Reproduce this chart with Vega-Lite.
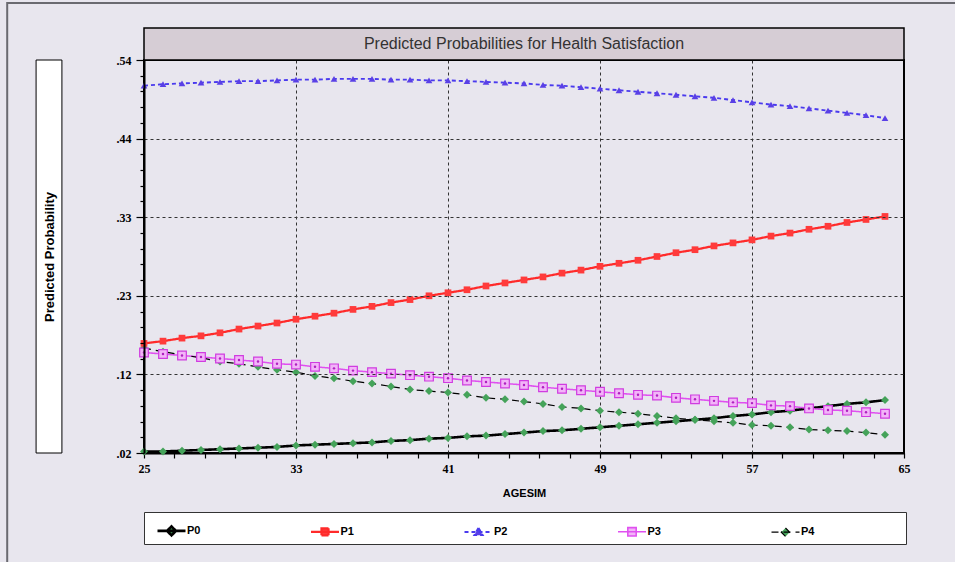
{
  "$schema": "https://vega.github.io/schema/vega-lite/v6.json",
  "width": 760,
  "height": 393,
  "autosize": {"type": "none"},
  "padding": {"left": 144, "top": 60, "right": 51, "bottom": 109},
  "background": "#e8e6ee",
  "config": {
    "view": {"stroke": "black", "strokeWidth": 2, "fill": "white"},
    "font": "Liberation Sans"
  },
  "data": {
    "values": [
      {"age": 25, "P0": 0.022, "P1": 0.165, "P2": 0.506, "P3": 0.153, "P4": 0.159},
      {"age": 26, "P0": 0.022, "P1": 0.168, "P2": 0.508, "P3": 0.151, "P4": 0.154},
      {"age": 27, "P0": 0.023, "P1": 0.172, "P2": 0.509, "P3": 0.149, "P4": 0.150},
      {"age": 28, "P0": 0.024, "P1": 0.175, "P2": 0.510, "P3": 0.147, "P4": 0.146},
      {"age": 29, "P0": 0.025, "P1": 0.179, "P2": 0.511, "P3": 0.145, "P4": 0.141},
      {"age": 30, "P0": 0.026, "P1": 0.184, "P2": 0.512, "P3": 0.143, "P4": 0.138},
      {"age": 31, "P0": 0.027, "P1": 0.188, "P2": 0.512, "P3": 0.141, "P4": 0.134},
      {"age": 32, "P0": 0.028, "P1": 0.192, "P2": 0.513, "P3": 0.138, "P4": 0.130},
      {"age": 33, "P0": 0.030, "P1": 0.197, "P2": 0.514, "P3": 0.137, "P4": 0.127},
      {"age": 34, "P0": 0.031, "P1": 0.201, "P2": 0.514, "P3": 0.134, "P4": 0.122},
      {"age": 35, "P0": 0.032, "P1": 0.205, "P2": 0.515, "P3": 0.132, "P4": 0.119},
      {"age": 36, "P0": 0.033, "P1": 0.210, "P2": 0.515, "P3": 0.129, "P4": 0.115},
      {"age": 37, "P0": 0.034, "P1": 0.214, "P2": 0.515, "P3": 0.127, "P4": 0.112},
      {"age": 38, "P0": 0.036, "P1": 0.219, "P2": 0.514, "P3": 0.125, "P4": 0.108},
      {"age": 39, "P0": 0.037, "P1": 0.223, "P2": 0.514, "P3": 0.123, "P4": 0.104},
      {"age": 40, "P0": 0.039, "P1": 0.228, "P2": 0.513, "P3": 0.121, "P4": 0.102},
      {"age": 41, "P0": 0.040, "P1": 0.232, "P2": 0.513, "P3": 0.119, "P4": 0.100},
      {"age": 42, "P0": 0.042, "P1": 0.236, "P2": 0.512, "P3": 0.116, "P4": 0.097},
      {"age": 43, "P0": 0.043, "P1": 0.241, "P2": 0.511, "P3": 0.114, "P4": 0.093},
      {"age": 44, "P0": 0.045, "P1": 0.245, "P2": 0.510, "P3": 0.112, "P4": 0.091},
      {"age": 45, "P0": 0.047, "P1": 0.249, "P2": 0.509, "P3": 0.110, "P4": 0.088},
      {"age": 46, "P0": 0.049, "P1": 0.253, "P2": 0.507, "P3": 0.107, "P4": 0.085},
      {"age": 47, "P0": 0.050, "P1": 0.258, "P2": 0.506, "P3": 0.105, "P4": 0.081},
      {"age": 48, "P0": 0.052, "P1": 0.262, "P2": 0.504, "P3": 0.103, "P4": 0.079},
      {"age": 49, "P0": 0.054, "P1": 0.267, "P2": 0.502, "P3": 0.101, "P4": 0.076},
      {"age": 50, "P0": 0.056, "P1": 0.271, "P2": 0.500, "P3": 0.099, "P4": 0.074},
      {"age": 51, "P0": 0.058, "P1": 0.275, "P2": 0.498, "P3": 0.097, "P4": 0.072},
      {"age": 52, "P0": 0.060, "P1": 0.280, "P2": 0.496, "P3": 0.096, "P4": 0.069},
      {"age": 53, "P0": 0.062, "P1": 0.285, "P2": 0.494, "P3": 0.093, "P4": 0.066},
      {"age": 54, "P0": 0.064, "P1": 0.289, "P2": 0.492, "P3": 0.091, "P4": 0.064},
      {"age": 55, "P0": 0.066, "P1": 0.294, "P2": 0.490, "P3": 0.089, "P4": 0.062},
      {"age": 56, "P0": 0.069, "P1": 0.298, "P2": 0.487, "P3": 0.087, "P4": 0.060},
      {"age": 57, "P0": 0.071, "P1": 0.302, "P2": 0.484, "P3": 0.086, "P4": 0.057},
      {"age": 58, "P0": 0.074, "P1": 0.307, "P2": 0.481, "P3": 0.083, "P4": 0.056},
      {"age": 59, "P0": 0.076, "P1": 0.311, "P2": 0.479, "P3": 0.082, "P4": 0.054},
      {"age": 60, "P0": 0.079, "P1": 0.316, "P2": 0.476, "P3": 0.079, "P4": 0.051},
      {"age": 61, "P0": 0.082, "P1": 0.320, "P2": 0.473, "P3": 0.077, "P4": 0.050},
      {"age": 62, "P0": 0.085, "P1": 0.325, "P2": 0.470, "P3": 0.076, "P4": 0.049},
      {"age": 63, "P0": 0.087, "P1": 0.329, "P2": 0.467, "P3": 0.074, "P4": 0.047},
      {"age": 64, "P0": 0.090, "P1": 0.333, "P2": 0.463, "P3": 0.072, "P4": 0.044}
    ]
  },
  "transform": [{"fold": ["P0", "P1", "P2", "P3", "P4"], "as": ["series", "prob"]}],
  "layer": [
    {
      "mark": {"type": "line", "interpolate": "linear"},
      "encoding": {
        "x": {
          "field": "age", "type": "quantitative",
          "scale": {"domain": [25, 65], "nice": false, "zero": false},
          "axis": {
            "values": [25, 26.6, 28.2, 29.8, 31.4, 33, 34.6, 36.2, 37.8, 39.4, 41, 42.6, 44.2, 45.8, 47.4, 49, 50.6, 52.2, 53.8, 55.4, 57, 58.6, 60.2, 61.8, 63.4, 65],
            "tickCount": 200,
            "title": "AGESIM",
            "titleFont": "Liberation Sans", "titleFontWeight": "bold", "titleFontSize": 11, "titleColor": "black",
            "titleY": 40, "titleBaseline": "middle",
            "labelExpr": "abs((datum.value-25)/8-round((datum.value-25)/8))<0.01 ? format(datum.value,'d') : ''",
            "labelFont": "Liberation Serif", "labelFontWeight": "bold", "labelFontSize": 12, "labelColor": "black",
            "labelPadding": 5,
            "labelOverlap": false, "labelFlush": false,
            "tickSize": 5, "tickColor": "black", "tickWidth": 1.2,
            "domainColor": "black", "domainWidth": 2,
            "grid": true, "gridColor": "#333333", "gridDash": [3, 3], "gridWidth": 1,
            "gridOpacity": {"condition": {"test": "abs((datum.value-25)/8-round((datum.value-25)/8))<0.01 && datum.value>25.5 && datum.value<64.5", "value": 1}, "value": 0}
          }
        },
        "y": {
          "field": "prob", "type": "quantitative",
          "scale": {"domain": [0.02, 0.54], "nice": false, "zero": false},
          "axis": {
            "values": [0.02, 0.0408, 0.0616, 0.0824, 0.1032, 0.124, 0.1448, 0.1656, 0.1864, 0.2072, 0.228, 0.2488, 0.2696, 0.2904, 0.3112, 0.332, 0.3528, 0.3736, 0.3944, 0.4152, 0.436, 0.4568, 0.4776, 0.4984, 0.5192, 0.54],
            "tickCount": 200,
            "zindex": 1,
            "title": "Predicted Probability",
            "titleFont": "Liberation Sans", "titleFontWeight": "bold", "titleFontSize": 13, "titleColor": "black",
            "titleX": -95, "titleY": 196.5, "titleAngle": -90, "titleAlign": "center", "titleBaseline": "middle",
            "labelExpr": "abs((datum.value-0.02)/0.104-round((datum.value-0.02)/0.104))<0.01 ? replace(format(datum.value,'.2f'),'0.','.') : ''",
            "labelFont": "Liberation Serif", "labelFontWeight": "bold", "labelFontSize": 12, "labelColor": "black",
            "labelPadding": 5,
            "labelOverlap": false, "labelFlush": false,
            "tickSize": {"condition": {"test": "abs((datum.value-0.02)/0.104-round((datum.value-0.02)/0.104))<0.01", "value": 8}, "value": 4},
            "tickColor": "black", "tickWidth": 1.2,
            "domainColor": "black", "domainWidth": 2,
            "grid": true, "gridColor": "#333333", "gridDash": [3, 3], "gridWidth": 1,
            "gridOpacity": {"condition": {"test": "abs((datum.value-0.02)/0.104-round((datum.value-0.02)/0.104))<0.01 && datum.value>0.03 && datum.value<0.53", "value": 1}, "value": 0}
          }
        },
        "stroke": {
          "field": "series", "type": "nominal",
          "scale": {"domain": ["P0", "P1", "P2", "P3", "P4"], "range": ["#000000", "#ff2a2a", "#4a3aee", "#e050f0", "#000000"]}
        },
        "strokeDash": {
          "field": "series", "type": "nominal",
          "scale": {"domain": ["P0", "P1", "P2", "P3", "P4"], "range": [[1, 0], [1, 0], [4, 3], [1, 0], [7, 5]]}
        },
        "strokeWidth": {
          "field": "series", "type": "ordinal",
          "scale": {"domain": ["P0", "P1", "P2", "P3", "P4"], "range": [2.6, 1.2, 1.2, 1.2, 1.2]}
        }
      }
    },
    {
      "data": {"values": [{}]},
      "mark": {"type": "rect", "fill": "transparent", "stroke": "#6a6a70", "strokeWidth": 2},
      "encoding": {
        "x": {"datum": 17.8, "type": "quantitative", "scale": {"domain": [25, 65], "nice": false, "zero": false}},
        "x2": {"datum": 70},
        "y": {"datum": 0.6154, "type": "quantitative", "scale": {"domain": [0.02, 0.54], "nice": false, "zero": false}},
        "y2": {"datum": -0.2}
      }
    },
    {
      "data": {"values": [{}]},
      "mark": {"type": "rect", "fill": "#d6cdd5", "stroke": "black", "strokeWidth": 1.5},
      "encoding": {
        "x": {"datum": 25, "type": "quantitative", "scale": {"domain": [25, 65], "nice": false, "zero": false}},
        "x2": {"datum": 65},
        "y": {"datum": 0.54, "type": "quantitative", "scale": {"domain": [0.02, 0.54], "nice": false, "zero": false}},
        "y2": {"datum": 0.5823}
      }
    },
    {
      "data": {"values": [{}]},
      "mark": {"type": "text", "text": "Predicted Probabilities for Health Satisfaction", "font": "Liberation Sans", "fontSize": 16, "color": "#333333", "align": "center", "baseline": "middle"},
      "encoding": {
        "x": {"datum": 45, "type": "quantitative", "scale": {"domain": [25, 65], "nice": false, "zero": false}},
        "y": {"datum": 0.5612, "type": "quantitative", "scale": {"domain": [0.02, 0.54], "nice": false, "zero": false}}
      }
    },
    {
      "data": {"values": [{}]},
      "mark": {"type": "rect", "fill": "white", "stroke": "black", "strokeWidth": 1},
      "encoding": {
        "x": {"datum": 19.32, "type": "quantitative", "scale": {"domain": [25, 65], "nice": false, "zero": false}},
        "x2": {"datum": 20.68},
        "y": {"datum": 0.54, "type": "quantitative", "scale": {"domain": [0.02, 0.54], "nice": false, "zero": false}},
        "y2": {"datum": 0.02}
      }
    },
    {
      "transform": [{"filter": "datum.series === 'P0' || datum.series === 'P4'"}],
      "mark": {"type": "point", "shape": "diamond", "filled": true, "fill": "#45a35a", "size": 64, "opacity": 1},
      "encoding": {
        "x": {"field": "age", "type": "quantitative"},
        "y": {"field": "prob", "type": "quantitative"}
      }
    },
    {
      "transform": [{"filter": "datum.series === 'P1'"}],
      "mark": {"type": "point", "shape": "square", "filled": true, "fill": "#ff3b3b", "size": 45, "opacity": 1},
      "encoding": {
        "x": {"field": "age", "type": "quantitative"},
        "y": {"field": "prob", "type": "quantitative"}
      }
    },
    {
      "transform": [{"filter": "datum.series === 'P2'"}],
      "mark": {"type": "point", "shape": "triangle-up", "filled": true, "fill": "#5a40e6", "size": 45, "opacity": 1},
      "encoding": {
        "x": {"field": "age", "type": "quantitative"},
        "y": {"field": "prob", "type": "quantitative"}
      }
    },
    {
      "transform": [{"filter": "datum.series === 'P3'"}],
      "mark": {"type": "point", "shape": "square", "filled": true, "fill": "#f2b4f8", "stroke": "#d03ce0", "strokeWidth": 1.2, "size": 75, "opacity": 1},
      "encoding": {
        "x": {"field": "age", "type": "quantitative"},
        "y": {"field": "prob", "type": "quantitative"}
      }
    },
    {
      "transform": [{"filter": "datum.series === 'P3'"}],
      "mark": {"type": "point", "shape": "circle", "filled": true, "fill": "#b020c0", "size": 6, "opacity": 1},
      "encoding": {
        "x": {"field": "age", "type": "quantitative"},
        "y": {"field": "prob", "type": "quantitative"}
      }
    },
    {
      "transform": [{"filter": "false"}],
      "mark": {"type": "point", "filled": true, "opacity": 1},
      "encoding": {
        "stroke": {
          "field": "series", "type": "nominal",
          "scale": {"domain": ["P0", "P1", "P2", "P3", "P4"], "range": ["#000000", "#ff2a2a", "#4a3aee", "#e050f0", "#000000"]}
        },
        "strokeDash": {
          "field": "series", "type": "nominal",
          "scale": {"domain": ["P0", "P1", "P2", "P3", "P4"], "range": [[1, 0], [1, 0], [4, 3], [1, 0], [7, 5]]}
        },
        "strokeWidth": {
          "field": "series", "type": "ordinal",
          "scale": {"domain": ["P0", "P1", "P2", "P3", "P4"], "range": [2.6, 1.2, 1.2, 1.2, 1.2]}
        },
        "fill": {
          "field": "series", "type": "nominal",
          "scale": {"domain": ["P0", "P1", "P2", "P3", "P4"], "range": ["#45a35a", "#ff3b3b", "#5a40e6", "#f2b4f8", "#45a35a"]}
        },
        "shape": {
          "field": "series", "type": "nominal",
          "scale": {"domain": ["P0", "P1", "P2", "P3", "P4"], "range": [
            "M-1,0L1,0M0,-0.32L0.32,0L0,0.32L-0.32,0Z",
            "M-1,0L1,0M-0.25,-0.25L0.25,-0.25L0.25,0.25L-0.25,0.25Z",
            "M-1,0L1,0M0,-0.3L0.3,0.22L-0.3,0.22Z",
            "M-1,0L1,0M-0.3,-0.3L0.3,-0.3L0.3,0.3L-0.3,0.3Z",
            "M-1,0L1,0M0,-0.3L0.3,0L0,0.3L-0.3,0Z"
          ]},
          "legend": {
            "title": " ",
            "titleOrient": "right",
            "titlePadding": 89,
            "titleFontSize": 11,
            "orient": "none",
            "legendX": 0,
            "legendY": 452,
            "direction": "horizontal",
            "columns": 5,
            "gridAlign": "all",
            "columnPadding": 99.5,
            "symbolSize": 784,
            "symbolOffset": 9,
            "labelOffset": 0,
            "labelFont": "Liberation Sans", "labelFontWeight": "bold", "labelFontSize": 11, "labelColor": "black",
            "padding": 3,
            "fillColor": "white",
            "strokeColor": "#333333"
          }
        }
      }
    }
  ]
}
